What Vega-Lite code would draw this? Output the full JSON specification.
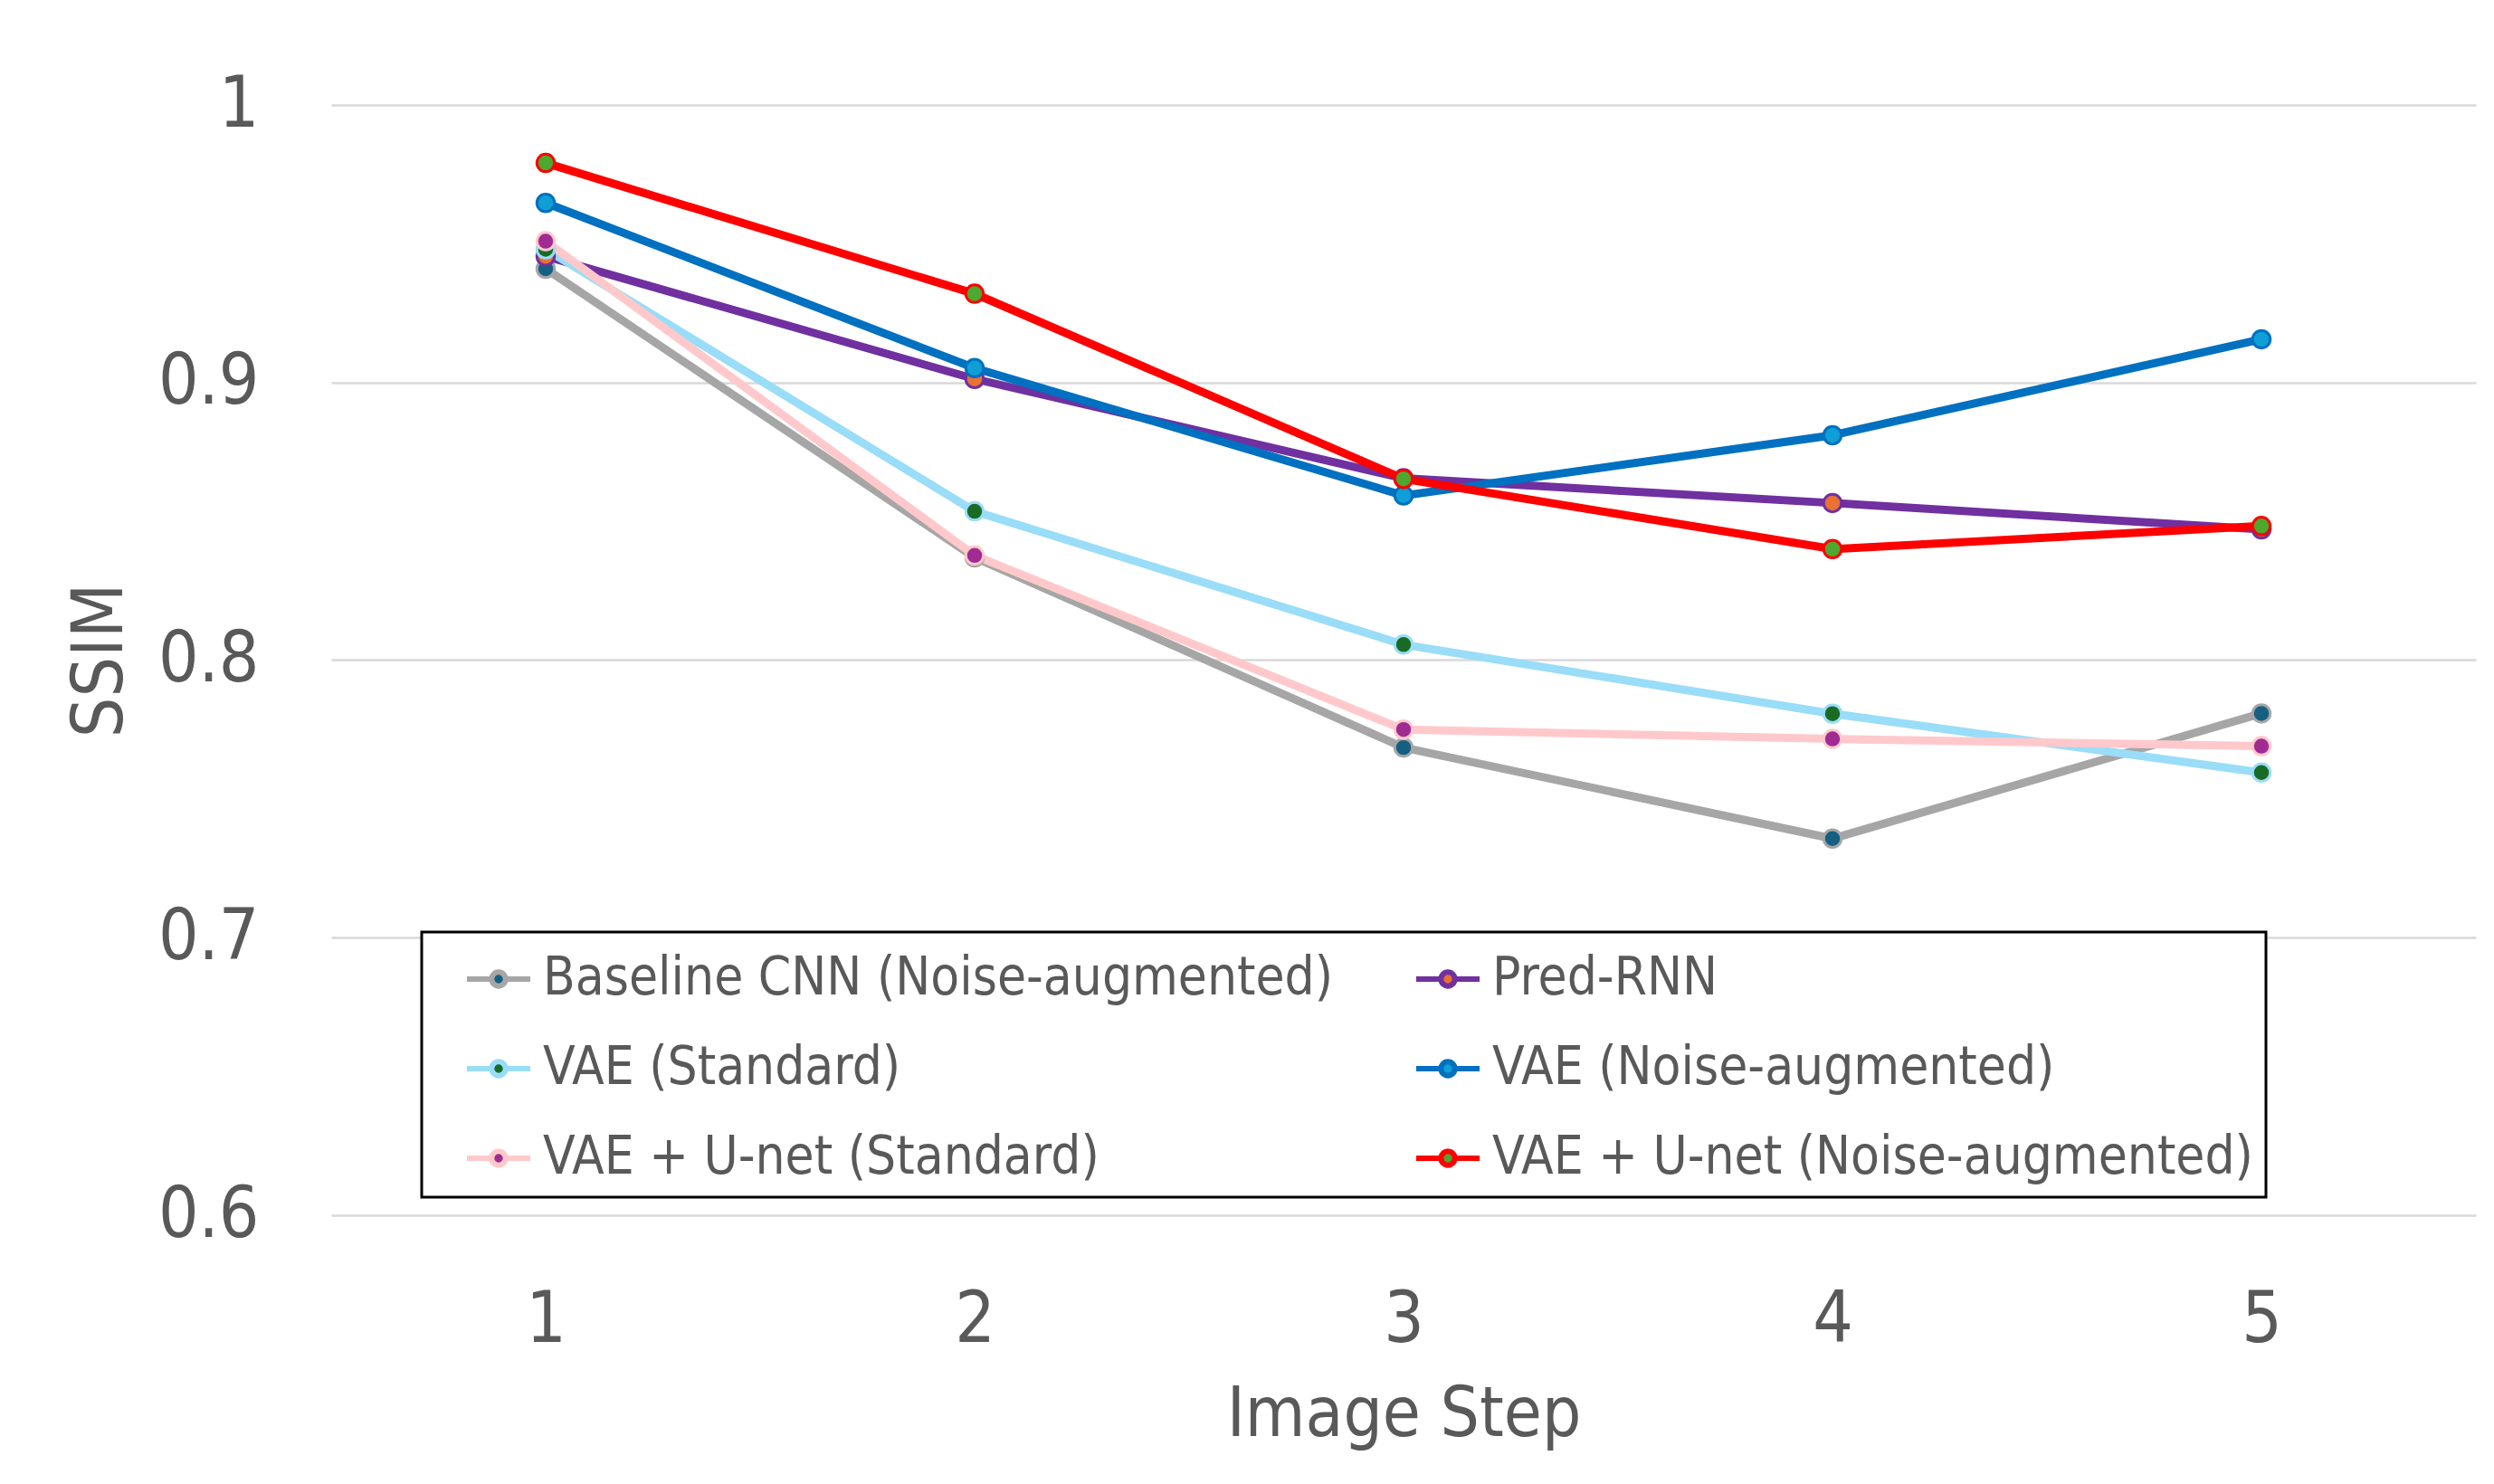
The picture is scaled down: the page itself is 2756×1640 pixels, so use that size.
{
  "$schema": "https://vega.github.io/schema/vega-lite/v6.json",
  "width": 2370,
  "height": 1227,
  "autosize": {"type": "none"},
  "padding": {"left": 366, "top": 116, "right": 20, "bottom": 297},
  "background": "white",
  "config": {
    "view": {"stroke": null},
    "font": "DejaVu Sans Condensed, sans-serif"
  },
  "data": {
    "values": [
      {"model": "Baseline CNN (Noise-augmented)", "step": "1", "ssim": 0.941},
      {"model": "Baseline CNN (Noise-augmented)", "step": "2", "ssim": 0.837},
      {"model": "Baseline CNN (Noise-augmented)", "step": "3", "ssim": 0.7685},
      {"model": "Baseline CNN (Noise-augmented)", "step": "4", "ssim": 0.7357},
      {"model": "Baseline CNN (Noise-augmented)", "step": "5", "ssim": 0.7808},
      {"model": "Pred-RNN", "step": "1", "ssim": 0.9455},
      {"model": "Pred-RNN", "step": "2", "ssim": 0.9013},
      {"model": "Pred-RNN", "step": "3", "ssim": 0.8655},
      {"model": "Pred-RNN", "step": "4", "ssim": 0.8566},
      {"model": "Pred-RNN", "step": "5", "ssim": 0.8471},
      {"model": "VAE (Standard)", "step": "1", "ssim": 0.948},
      {"model": "VAE (Standard)", "step": "2", "ssim": 0.8536},
      {"model": "VAE (Standard)", "step": "3", "ssim": 0.8056},
      {"model": "VAE (Standard)", "step": "4", "ssim": 0.7807},
      {"model": "VAE (Standard)", "step": "5", "ssim": 0.7595},
      {"model": "VAE (Noise-augmented)", "step": "1", "ssim": 0.9647},
      {"model": "VAE (Noise-augmented)", "step": "2", "ssim": 0.9052},
      {"model": "VAE (Noise-augmented)", "step": "3", "ssim": 0.8593},
      {"model": "VAE (Noise-augmented)", "step": "4", "ssim": 0.881},
      {"model": "VAE (Noise-augmented)", "step": "5", "ssim": 0.9156},
      {"model": "VAE + U-net (Standard)", "step": "1", "ssim": 0.9509},
      {"model": "VAE + U-net (Standard)", "step": "2", "ssim": 0.8377},
      {"model": "VAE + U-net (Standard)", "step": "3", "ssim": 0.775},
      {"model": "VAE + U-net (Standard)", "step": "4", "ssim": 0.7716},
      {"model": "VAE + U-net (Standard)", "step": "5", "ssim": 0.769},
      {"model": "VAE + U-net (Noise-augmented)", "step": "1", "ssim": 0.9791},
      {"model": "VAE + U-net (Noise-augmented)", "step": "2", "ssim": 0.932},
      {"model": "VAE + U-net (Noise-augmented)", "step": "3", "ssim": 0.8653},
      {"model": "VAE + U-net (Noise-augmented)", "step": "4", "ssim": 0.84},
      {"model": "VAE + U-net (Noise-augmented)", "step": "5", "ssim": 0.8483}
    ]
  },
  "encoding": {
    "x": {
      "field": "step",
      "type": "ordinal",
      "scale": {"type": "point", "padding": 0.5},
      "axis": {
        "title": "Image Step",
        "labelAngle": 0,
        "domain": false,
        "ticks": false,
        "grid": false,
        "labelFontSize": 78,
        "labelColor": "#595959",
        "labelPadding": 77,
        "titleFontSize": 76,
        "titleFontWeight": "normal",
        "titleColor": "#595959",
        "titleX": 1185,
        "titleY": 243,
        "titleAlign": "center",
        "titleBaseline": "alphabetic"
      }
    },
    "y": {
      "field": "ssim",
      "type": "quantitative",
      "scale": {"domain": [0.6, 1.0], "nice": false, "zero": false},
      "axis": {
        "title": "SSIM",
        "values": [0.6, 0.7, 0.8, 0.9, 1.0],
        "format": ".1~f",
        "domain": false,
        "ticks": false,
        "grid": true,
        "gridColor": "#d9d9d9",
        "gridWidth": 2.5,
        "labelFontSize": 78,
        "labelColor": "#595959",
        "labelPadding": 80,
        "titleFontSize": 78,
        "titleFontWeight": "normal",
        "titleColor": "#595959",
        "titleAngle": -90,
        "titleX": -255,
        "titleY": 613.5,
        "titleAlign": "center",
        "titleBaseline": "middle"
      }
    }
  },
  "layer": [
    {
      "mark": {"type": "line", "strokeWidth": 9},
      "encoding": {
        "color": {
          "field": "model",
          "type": "nominal",
          "scale": {
            "domain": ["Baseline CNN (Noise-augmented)", "Pred-RNN", "VAE (Standard)", "VAE (Noise-augmented)", "VAE + U-net (Standard)", "VAE + U-net (Noise-augmented)"],
            "range": ["#A6A6A6", "#7030A0", "#99DDF8", "#0070C0", "#FFC9CC", "#FF0000"]
          },
          "legend": {
            "title": null,
            "orient": "none",
            "direction": "horizontal",
            "legendX": 100,
            "legendY": 914,
            "columns": 2,
            "symbolType": "M-1,0H-0.22M0.22,0H1M0.22,0A0.22,0.22,0,1,1,-0.22,0A0.22,0.22,0,1,1,0.22,0Z",
            "symbolSize": 4900,
            "symbolStrokeWidth": 6,
            "symbolOffset": 33,
            "labelFontSize": 58,
            "labelColor": "#595959",
            "labelOffset": 11,
            "labelLimit": 0,
            "rowPadding": 32,
            "columnPadding": 55,
            "padding": 14,
            "strokeColor": "black",
            "fillColor": "white",
            "encode": {
              "legend": {"update": {"strokeWidth": {"value": 3}}},
              "symbols": {
                "update": {
                  "fill": {"scale": "fill", "field": "value"},
                  "fillOpacity": {"value": 1},
                  "stroke": {"scale": "color", "field": "value"},
                  "strokeOpacity": {"value": 1}
                }
              }
            }
          }
        }
      }
    },
    {
      "mark": {"type": "point", "filled": true, "size": 380, "strokeWidth": 3, "opacity": 1},
      "encoding": {
        "fill": {
          "field": "model",
          "type": "nominal",
          "scale": {
            "domain": ["Baseline CNN (Noise-augmented)", "Pred-RNN", "VAE (Standard)", "VAE (Noise-augmented)", "VAE + U-net (Standard)", "VAE + U-net (Noise-augmented)"],
            "range": ["#156082", "#E97132", "#196B24", "#0F9ED5", "#A02B93", "#4EA72E"]
          },
          "legend": null
        },
        "stroke": {
          "field": "model",
          "type": "nominal",
          "scale": {
            "domain": ["Baseline CNN (Noise-augmented)", "Pred-RNN", "VAE (Standard)", "VAE (Noise-augmented)", "VAE + U-net (Standard)", "VAE + U-net (Noise-augmented)"],
            "range": ["#A6A6A6", "#7030A0", "#99DDF8", "#0070C0", "#FFC9CC", "#FF0000"]
          },
          "legend": null
        }
      }
    }
  ]
}
